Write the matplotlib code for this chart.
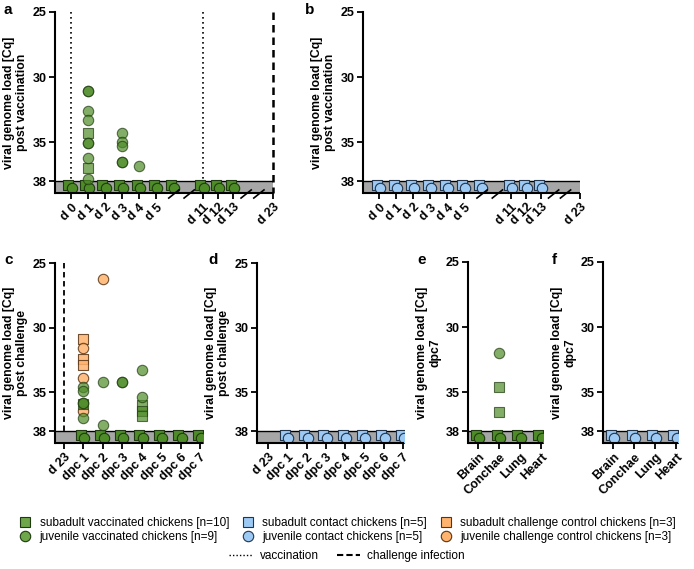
import numpy as np
import matplotlib
matplotlib.use("Agg")
import matplotlib.pyplot as plt
import matplotlib.transforms as mtransforms
from matplotlib.lines import Line2D

plt.rcParams['font.family'] = ['Liberation Sans', 'DejaVu Sans']

# ---- data ----
# panel a/b: days post vaccination
vacc_labels = ['d 0', 'd 1', 'd 2', 'd 3', 'd 4', 'd 5', 'd 11', 'd 12', 'd 13', 'd 23']
vacc_pos = [0, 1, 2, 3, 4, 5, 7.76, 8.65, 9.53, 11.88]
vacc_neg_pos = [0, 1, 2, 3, 4, 5, 6, 7.76, 8.65, 9.53]   # sampled days, negative result

a_sq_x = [1, 1]
a_sq_y = [34.3, 37.0]
a_ci_x = [1, 1, 1, 1, 1, 1, 1, 1, 3, 3, 3, 3, 3, 4]
a_ci_y = [31.1, 31.1, 32.6, 33.3, 35.05, 35.05, 36.2, 37.8,
          34.3, 35.0, 35.3, 36.5, 36.5, 36.8]

# panel c/d: days post challenge
chal_labels = ['d 23', 'dpc 1', 'dpc 2', 'dpc 3', 'dpc 4', 'dpc 5', 'dpc 6', 'dpc 7']
chal_pos = [0, 1, 2, 3, 4, 5, 6, 7]
chal_neg_pos = [1, 2, 3, 4, 5, 6, 7]

c_or_sq_x = [1, 1, 1]
c_or_sq_y = [30.9, 32.45, 32.9]
c_or_ci_x = [1, 1, 1, 2]
c_or_ci_y = [31.6, 33.9, 36.4, 26.2]
c_gr_sq_x = [1, 4, 4, 4]
c_gr_sq_y = [35.9, 36.0, 36.4, 36.8]
c_gr_ci_x = [1, 1, 1, 1, 1, 2, 2, 3, 3, 4, 4]
c_gr_ci_y = [34.6, 34.85, 35.8, 35.8, 37.0, 34.2, 37.5, 34.2, 34.2, 33.3, 35.35]

# panel e/f: organs dpc7
organ_labels = ['Brain', 'Conchae', 'Lung', 'Heart']
organ_pos = [0, 1, 2, 3]
e_sq_x = [1, 1]
e_sq_y = [34.6, 36.5]
e_ci_x = [1]
e_ci_y = [32.0]

neg_sq_y = 38.3
neg_ci_y = 38.5

green = '#4e8c28'
green_edge = '#1f3a10'
blue = '#9ccaf4'
blue_edge = '#22344a'
orange = '#ffb36e'
orange_edge = '#5a3514'
band_col = '#a6a6a6'

MS = 56  # marker area

fig = plt.figure(figsize=(6.94, 5.69), dpi=100)
W, H = 694.0, 569.0


def make_ax(l, r, t, b):
    return fig.add_axes([l / W, 1 - b / H, (r - l) / W, (b - t) / H])


def offset(ax, dx):
    return ax.transData + mtransforms.ScaledTranslation(dx / 100.0, 0, fig.dpi_scale_trans)


def setup(ax, xlim, pos, labels, ylabel, breaks=None):
    ax.set_xlim(*xlim)
    ax.set_ylim(38.9, 25)
    ax.axhspan(38, 38.9, color=band_col, zorder=0, lw=0)
    ax.axhline(38, color='black', lw=1.0, zorder=1)
    ax.spines['top'].set_visible(False)
    ax.spines['right'].set_visible(False)
    ax.spines['bottom'].set_visible(False)
    ax.spines['left'].set_linewidth(1.5)
    ax.set_yticks([25, 30, 35, 38])
    ax.set_xticks(pos)
    ax.set_xticklabels(labels, rotation=45, ha='right', rotation_mode='anchor')
    ax.tick_params(axis='both', width=1.3, length=4, labelsize=9, pad=2)
    for lab in ax.get_xticklabels() + ax.get_yticklabels():
        lab.set_fontweight('bold')
    ax.set_ylabel(ylabel, fontsize=8.8, fontweight='bold', labelpad=3)
    tr = ax.get_xaxis_transform()
    # bottom axis line in pieces (broken axis)
    pts = [xlim[0]]
    if breaks:
        for b in breaks:
            pts += [b, b]
    pts.append(xlim[1])
    for i in range(0, len(pts), 2):
        ax.plot([pts[i], pts[i + 1]], [0, 0], color='black', lw=1.5,
                transform=tr, clip_on=False, zorder=5, solid_capstyle='butt')
    if breaks:
        for b in breaks:
            ax.plot([b - 0.3, b + 0.3], [-0.028, 0.017], color='black', lw=1.2,
                    transform=tr, clip_on=False, zorder=6)


def negatives(ax, xs, face, edge):
    ax.scatter(xs, [neg_sq_y] * len(xs), s=MS, marker='s', c=face, edgecolors=edge,
               linewidths=0.8, transform=offset(ax, -2.5), zorder=3)
    ax.scatter(xs, [neg_ci_y] * len(xs), s=MS, marker='o', c=face, edgecolors=edge,
               linewidths=0.8, transform=offset(ax, 1.0), zorder=4)


# ---- panel a ----
ax = make_ax(55, 273, 12, 193)
setup(ax, (-0.94, 11.88), vacc_pos, vacc_labels,
      'viral genome load [Cq]\npost vaccination', breaks=[6.05, 6.95, 10.3, 11.05])
ax.vlines([vacc_pos[0], vacc_pos[6]], 25, 38, colors='black', linestyles=(0, (1, 2)), lw=1.2, zorder=2)
ax.vlines([vacc_pos[-1]], 25, 38.9, colors='black', linestyles=(0, (3, 2)), lw=1.8, zorder=2, clip_on=False)
negatives(ax, vacc_neg_pos, green, green_edge)
ax.scatter(a_sq_x, a_sq_y, s=MS, marker='s', c=green, alpha=0.7, edgecolors=green_edge, linewidths=0.8, zorder=3)
ax.scatter(a_ci_x, a_ci_y, s=MS, marker='o', c=green, alpha=0.7, edgecolors=green_edge, linewidths=0.8, zorder=4)

# ---- panel b ----
ax = make_ax(363, 580, 12, 193)
setup(ax, (-0.94, 11.8), vacc_pos[:-1] + [11.8], vacc_labels,
      'viral genome load [Cq]\npost vaccination', breaks=[6.05, 6.95, 10.25, 10.95])
negatives(ax, vacc_neg_pos, blue, blue_edge)

# ---- panel c ----
ax = make_ax(55, 203, 263, 443)
setup(ax, (-0.46, 7.15), chal_pos, chal_labels, 'viral genome load [Cq]\npost challenge')
ax.vlines([chal_pos[0]], 25, 38, colors='black', linestyles=(0, (3, 2)), lw=1.3, zorder=2)
negatives(ax, chal_neg_pos, green, green_edge)
ax.scatter(c_or_sq_x, c_or_sq_y, s=MS, marker='s', c=orange, alpha=0.85, edgecolors=orange_edge, linewidths=0.8, zorder=3)
ax.scatter(c_or_ci_x, c_or_ci_y, s=MS, marker='o', c=orange, alpha=0.85, edgecolors=orange_edge, linewidths=0.8, zorder=3)
ax.scatter(c_gr_sq_x, c_gr_sq_y, s=MS, marker='s', c=green, alpha=0.7, edgecolors=green_edge, linewidths=0.8, zorder=4)
ax.scatter(c_gr_ci_x, c_gr_ci_y, s=MS, marker='o', c=green, alpha=0.7, edgecolors=green_edge, linewidths=0.8, zorder=4)

# ---- panel d ----
ax = make_ax(257, 404, 263, 443)
setup(ax, (-0.57, 7.05), chal_pos, chal_labels, 'viral genome load [Cq]\npost challenge')
negatives(ax, chal_neg_pos, blue, blue_edge)

# ---- panel e ----
ax = make_ax(468, 543, 262, 443)
setup(ax, (-0.48, 3.1), organ_pos, organ_labels, 'viral genome load [Cq]\ndpc7')
negatives(ax, organ_pos, green, green_edge)
ax.scatter(e_sq_x, e_sq_y, s=MS, marker='s', c=green, alpha=0.7, edgecolors=green_edge, linewidths=0.8, zorder=3)
ax.scatter(e_ci_x, e_ci_y, s=MS, marker='o', c=green, alpha=0.7, edgecolors=green_edge, linewidths=0.8, zorder=4)

# ---- panel f ----
ax = make_ax(603, 678, 262, 443)
setup(ax, (-0.48, 3.1), organ_pos, organ_labels, 'viral genome load [Cq]\ndpc7')
negatives(ax, organ_pos, blue, blue_edge)

# panel letters
for letter, x, y in [('a', 4, 3), ('b', 305, 3), ('c', 4, 253), ('d', 208, 253),
                     ('e', 417, 253), ('f', 552, 253)]:
    fig.text(x / W, 1 - y / H, letter, fontsize=11, fontweight='bold', va='top', ha='left')

# legend
def mk(marker, face, edge):
    return Line2D([], [], ls='none', marker=marker, markersize=7.5, markerfacecolor=face,
                  markeredgecolor=edge, markeredgewidth=0.8)

handles = [mk('s', '#6ea64a', green_edge), mk('o', '#6ea64a', green_edge),
           mk('s', blue, blue_edge), mk('o', blue, blue_edge),
           mk('s', orange, orange_edge), mk('o', orange, orange_edge)]
labels = ['subadult vaccinated chickens [n=10]', 'juvenile vaccinated chickens [n=9]',
          'subadult contact chickens [n=5]', 'juvenile contact chickens [n=5]',
          'subadult challenge control chickens [n=3]', 'juvenile challenge control chickens [n=3]']
fig.legend(handles, labels, ncol=3, loc='center', bbox_to_anchor=(0.5, 1 - 530 / H),
           frameon=False, fontsize=8.5, handletextpad=0.6, columnspacing=1.0,
           labelspacing=0.2, handlelength=1.2, borderpad=0)

line_handles = [Line2D([], [], color='black', lw=1.0, ls=(0, (1, 1.5))),
                Line2D([], [], color='black', lw=1.5, ls=(0, (3, 1.5)))]
fig.legend(line_handles, ['vaccination', 'challenge infection'], ncol=2, loc='center',
           bbox_to_anchor=(0.5, 1 - 556 / H), frameon=False, fontsize=8.5,
           handlelength=2.0, handletextpad=0.6, columnspacing=1.5, borderpad=0)

fig.savefig('out.png', dpi=100)
